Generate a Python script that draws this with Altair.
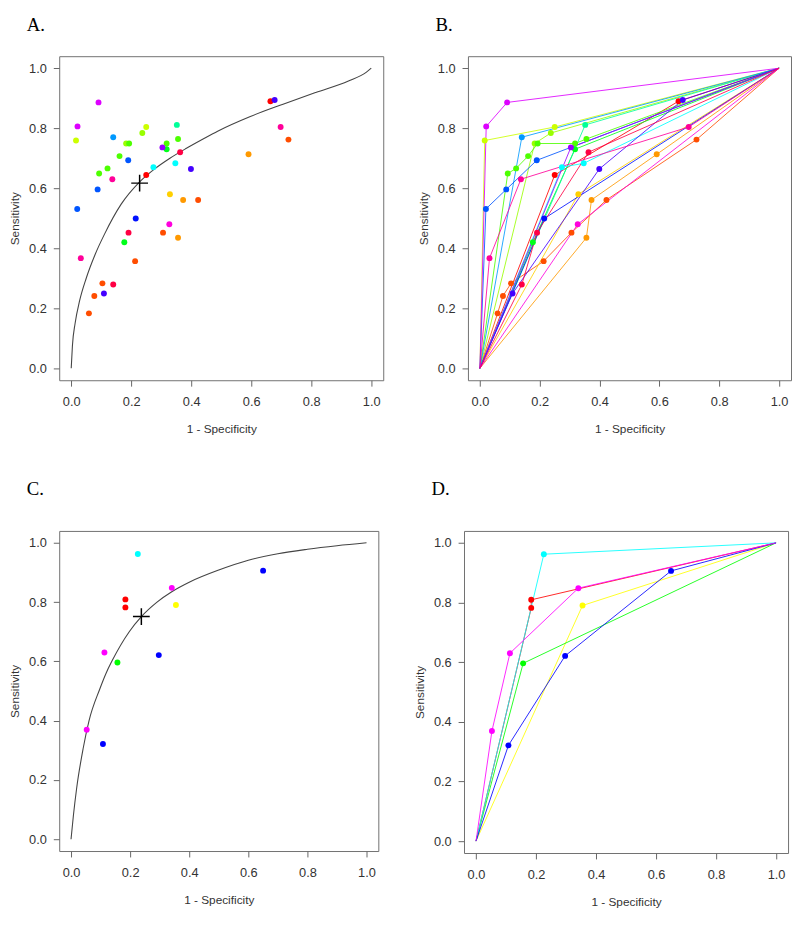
import altair as alt
import pandas as pd

# ---------------- Panel A / B data (study operating points) ----------------
ab_colors = ["#FF0000", "#FF4D00", "#FF9900", "#FFD000", "#CCFF00", "#99FF00",
             "#4DFF00", "#00FF1A", "#00FF99", "#00FFFF", "#0099FF", "#0055FF",
             "#0011FF", "#4400FF", "#9900FF", "#DD00FF", "#FF00DD", "#FF0099",
             "#FF0044"]
ab_study = [0, 0,
            1, 1, 1, 1, 1, 1, 1,
            2, 2, 2,
            3,
            4, 4,
            5, 5,
            6, 6, 6, 6, 6, 6,
            7, 7,
            8,
            9, 9,
            10,
            11, 11, 11,
            12,
            13, 13, 13,
            14,
            15, 15,
            16,
            17, 17, 17,
            18, 18, 18]
ab_fpr = [0.250, 0.664,
          0.059, 0.077, 0.104, 0.213, 0.306, 0.423, 0.724,
          0.356, 0.373, 0.591,
          0.329,
          0.016, 0.250,
          0.183, 0.237,
          0.093, 0.121, 0.161, 0.193, 0.318, 0.356,
          0.177, 0.318,
          0.352,
          0.274, 0.347,
          0.140,
          0.020, 0.088, 0.190,
          0.215,
          0.109, 0.399, 0.678,
          0.304,
          0.021, 0.091,
          0.327,
          0.032, 0.137, 0.698,
          0.140, 0.191, 0.363]
ab_sens = [0.644, 0.890,
           0.183, 0.241, 0.283, 0.357, 0.452, 0.561, 0.762,
           0.435, 0.561, 0.713,
           0.580,
           0.759, 0.804,
           0.749, 0.784,
           0.649, 0.666, 0.707, 0.749, 0.749, 0.764,
           0.420, 0.730,
           0.811,
           0.670, 0.683,
           0.770,
           0.531, 0.596, 0.693,
           0.499,
           0.249, 0.664, 0.894,
           0.736,
           0.806, 0.886,
           0.480,
           0.367, 0.630, 0.804,
           0.279, 0.452, 0.720]

# summary ROC curve
curve_a_x = [0.0, 0.004, 0.013, 0.028, 0.050, 0.080, 0.111, 0.166, 0.229, 0.275,
             0.329, 0.384, 0.438, 0.488, 0.597, 0.706, 0.815, 0.924, 0.984, 1.0]
curve_a_y = [0.0, 0.075, 0.150, 0.225, 0.300, 0.380, 0.447, 0.546, 0.622, 0.662,
             0.700, 0.733, 0.763, 0.790, 0.839, 0.880, 0.919, 0.957, 0.987, 1.0]
summary_a = [0.228, 0.617]

# ---------------- Panel C / D data ----------------
cd_colors = ["#FF0000", "#FFFF00", "#00FF00", "#00FFFF", "#0000FF", "#FF00FF"]
cd_study = [0, 0, 1, 2, 3, 4, 4, 4, 5, 5, 5]
cd_fpr = [0.184, 0.184, 0.355, 0.157, 0.226, 0.108, 0.297, 0.650, 0.053, 0.113, 0.341]
cd_sens = [0.782, 0.809, 0.790, 0.596, 0.962, 0.321, 0.621, 0.906, 0.369, 0.630, 0.848]

curve_c_x = [0.0, 0.008, 0.019, 0.041, 0.061, 0.097, 0.119, 0.138, 0.197, 0.238,
             0.291, 0.341, 0.4, 0.5, 0.6, 0.7, 0.8, 0.9, 1.0]
curve_c_y = [0.0, 0.080, 0.172, 0.306, 0.400, 0.506, 0.561, 0.600, 0.700, 0.751,
             0.800, 0.835, 0.867, 0.908, 0.941, 0.963, 0.978, 0.990, 1.0]
summary_c = [0.238, 0.751]

ticks = [0.0, 0.2, 0.4, 0.6, 0.8, 1.0]


def point_frame(study, fpr, sens, colors):
    return pd.DataFrame({"study": study, "fpr": fpr, "sens": sens,
                         "col": [colors[s] for s in study]})


def roc_paths(pts):
    rows = []
    for s, g in pts.groupby("study"):
        g = g.sort_values(["fpr", "sens"])
        path = [(0.0, 0.0)] + list(zip(g["fpr"], g["sens"])) + [(1.0, 1.0)]
        for k, (x, y) in enumerate(path):
            rows.append({"study": s, "k": k, "fpr": x, "sens": y, "col": g["col"].iloc[0]})
    return pd.DataFrame(rows)


def curve_frame(xs, ys):
    return pd.DataFrame({"k": list(range(len(xs))), "fpr": xs, "sens": ys})


pts_ab = point_frame(ab_study, ab_fpr, ab_sens, ab_colors)
pts_cd = point_frame(cd_study, cd_fpr, cd_sens, cd_colors)
paths_ab = roc_paths(pts_ab)
paths_cd = roc_paths(pts_cd)

scale = alt.Scale(domain=[-0.04, 1.04], nice=False, zero=False)
xaxis = alt.Axis(values=ticks, format=".1f", title="1 - Specificity", grid=False,
                 domain=False, tickSize=6, labelPadding=10, titlePadding=15)
yaxis = alt.Axis(values=ticks, format=".1f", title="Sensitivity", grid=False,
                 domain=False, tickSize=6, labelPadding=7, titlePadding=7, labelAngle=0)
X = alt.X("fpr:Q", scale=scale, axis=xaxis)
Y = alt.Y("sens:Q", scale=scale, axis=yaxis)


def title(t, off):
    return alt.TitleParams(t, anchor="start", frame="group", dx=-33, offset=off,
                           font="Liberation Serif", fontSize=19, fontWeight="normal",
                           color="black")


def points(df):
    return alt.Chart(df).mark_circle(size=36, opacity=1).encode(
        x=X, y=Y, color=alt.Color("col:N", scale=None))


def lines(df):
    return alt.Chart(df).mark_line(strokeWidth=1, opacity=0.85).encode(
        x=X, y=Y, detail="study:N", order="k:Q", color=alt.Color("col:N", scale=None))


def curve(xs, ys):
    return alt.Chart(curve_frame(xs, ys)).mark_line(
        color="#444444", strokeWidth=1.1, interpolate="monotone").encode(
        x=X, y=Y, order="k:Q")


def cross(v):
    df = pd.DataFrame({"fpr": [v[0]], "sens": [v[1]]})
    return alt.Chart(df).mark_point(shape="M-1,0L1,0M0,-1L0,1", size=290, filled=False,
                                    color="black", strokeWidth=1.5, opacity=1).encode(x=X, y=Y)


panel_a = alt.layer(curve(curve_a_x, curve_a_y), points(pts_ab), cross(summary_a)).properties(
    width=329, height=329, title=title("A.", 22))
panel_b = alt.layer(lines(paths_ab), points(pts_ab)).properties(
    width=328, height=329, title=title("B.", 22))
panel_c = alt.layer(curve(curve_c_x, curve_c_y), points(pts_cd), cross(summary_c)).properties(
    width=324, height=325, title=title("C.", 32))
panel_d = alt.layer(lines(paths_cd), points(pts_cd)).properties(
    width=329, height=327, title=title("D.", 32))

row1 = alt.hconcat(panel_a, panel_b, spacing=33)
row2 = alt.hconcat(panel_c, panel_d, spacing=34)
chart = alt.vconcat(row1, row2, spacing=45).properties(padding=0).configure_view(
    stroke="#707070", strokeWidth=1
).configure_axis(
    labelFont="Liberation Sans", labelFontSize=13, labelColor="#333333",
    titleFont="Liberation Sans", titleFontSize=12, titleFontWeight="normal",
    titleColor="#333333", tickColor="#666666"
)

chart.save("out.html", embed_options={"renderer": "svg", "actions": False})
